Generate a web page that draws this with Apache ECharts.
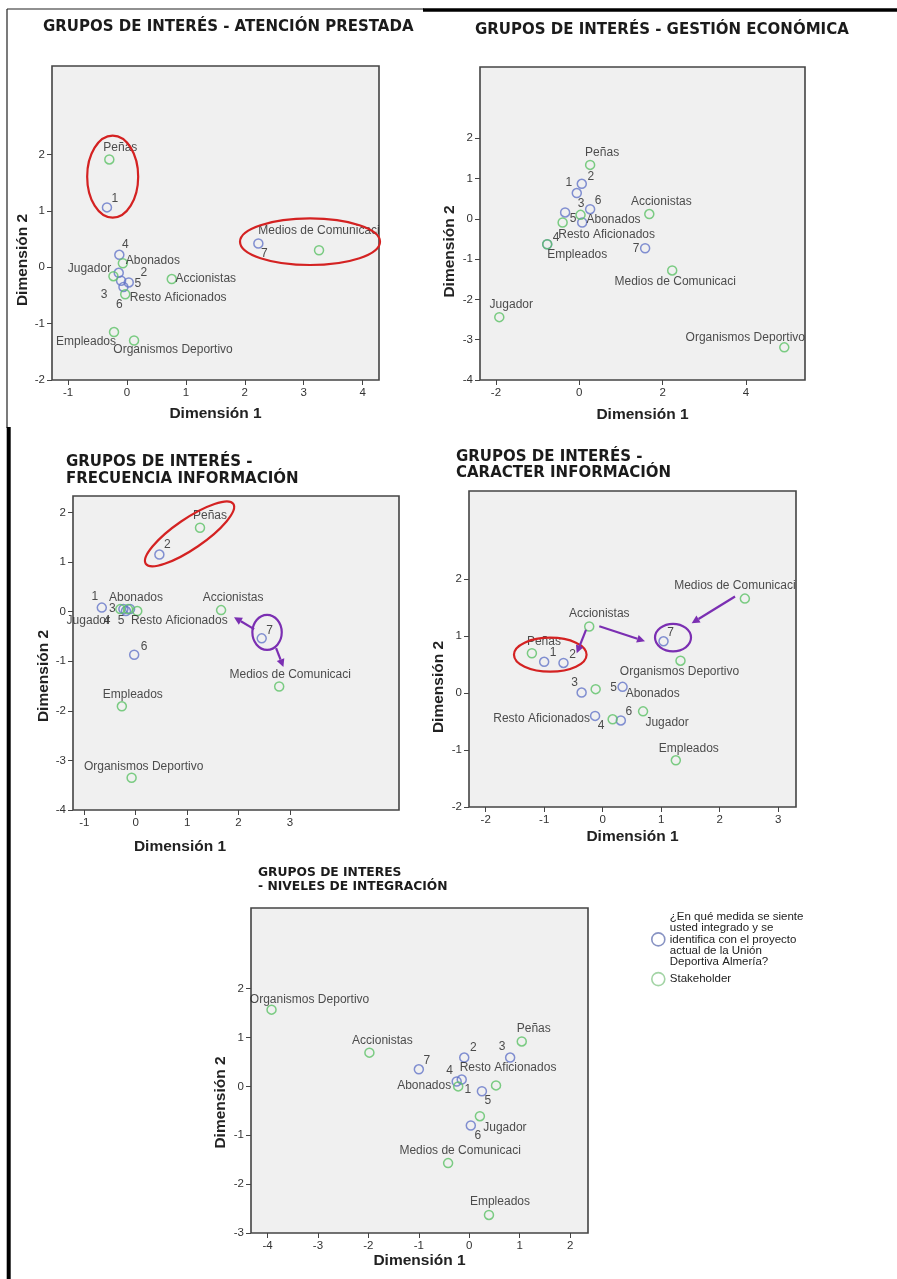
<!DOCTYPE html>
<html><head><meta charset="utf-8">
<script src="https://cdn.jsdelivr.net/npm/echarts@6/dist/echarts.min.js"></script>
<style>html,body{margin:0;padding:0;background:#fff}#c{width:897px;height:1279px}</style>
</head><body><div id="c"></div>
<script>
// ---------- shared names ----------
const blueNames = ['1','2','3','4','5','6','7'];
const greenNames = ['Peñas','Accionistas','Medios de Comunicaci','Organismos Deportivo','Abonados','Resto Aficionados','Jugador','Empleados'];
const blueLegend = '¿En qué medida se siente\nusted integrado y se\nidentifica con el proyecto\nactual de la Unión\nDeportiva Almería?';
const greenLegend = 'Stakeholder';
const panelTitles = ['GRUPOS DE INTERÉS - ATENCIÓN PRESTADA','GRUPOS DE INTERÉS - GESTIÓN ECONÓMICA','GRUPOS DE INTERÉS -\nFRECUENCIA INFORMACIÓN','GRUPOS DE INTERÉS -\nCARACTER INFORMACIÓN','GRUPOS DE INTERES\n- NIVELES DE INTEGRACIÓN'];
const xName = 'Dimensión 1', yName = 'Dimensión 2';

// ---------- panel 1: Atención prestada ----------
const p1BlueX = [-0.34, -0.14, -0.10, -0.13, 0.03, -0.06, 2.23];
const p1BlueY = [1.06, -0.10, -0.24, 0.22, -0.27, -0.35, 0.42];
const p1GreenX = [-0.30, 0.76, 3.26, 0.12, -0.07, -0.03, -0.23, -0.22];
const p1GreenY = [1.91, -0.21, 0.30, -1.30, 0.07, -0.48, -0.16, -1.15];
const p1XTicks = [-1, 0, 1, 2, 3, 4];
const p1YTicks = [-2, -1, 0, 1, 2];

// ---------- panel 2: Gestión económica ----------
const p2BlueX = [-0.06, 0.06, 0.07, -0.77, -0.34, 0.26, 1.58];
const p2BlueY = [0.64, 0.87, -0.09, -0.63, 0.16, 0.24, -0.73];
const p2GreenX = [0.26, 1.68, 2.23, 4.92, 0.03, -0.40, -1.92, -0.77];
const p2GreenY = [1.34, 0.12, -1.28, -3.19, 0.10, -0.09, -2.44, -0.63];
const p2XTicks = [-2, 0, 2, 4];
const p2YTicks = [-4, -3, -2, -1, 0, 1, 2];

// ---------- panel 3: Frecuencia información ----------
const p3BlueX = [-0.66, 0.46, -0.24, -0.19, -0.11, -0.03, 2.45];
const p3BlueY = [0.08, 1.15, 0.05, 0.01, 0.05, -0.87, -0.54];
const p3GreenX = [1.25, 1.66, 2.79, -0.08, -0.15, 0.03, -0.30, -0.27];
const p3GreenY = [1.69, 0.03, -1.51, -3.35, 0.05, 0.01, 0.05, -1.91];
const p3XTicks = [-1, 0, 1, 2, 3];
const p3YTicks = [-4, -3, -2, -1, 0, 1, 2];

// ---------- panel 4: Caracter información ----------
const p4BlueX = [-1.00, -0.67, -0.36, -0.13, 0.34, 0.31, 1.04];
const p4BlueY = [0.55, 0.53, 0.01, -0.40, 0.11, -0.48, 0.91];
const p4GreenX = [-1.21, -0.23, 2.43, 1.33, -0.12, 0.17, 0.69, 1.25];
const p4GreenY = [0.70, 1.17, 1.66, 0.57, 0.07, -0.46, -0.32, -1.18];
const p4XTicks = [-2, -1, 0, 1, 2, 3];
const p4YTicks = [-2, -1, 0, 1, 2];

// ---------- panel 5: Niveles de integración ----------
const p5BlueX = [-0.15, -0.10, 0.81, -0.25, 0.25, 0.03, -1.00];
const p5BlueY = [0.14, 0.59, 0.59, 0.10, -0.10, -0.80, 0.35];
const p5GreenX = [1.04, -1.98, -0.42, -3.92, -0.22, 0.53, 0.21, 0.39];
const p5GreenY = [0.92, 0.69, -1.57, 1.57, 0.00, 0.02, -0.61, -2.63];
const p5XTicks = [-4, -3, -2, -1, 0, 1, 2];
const p5YTicks = [-3, -2, -1, 0, 1, 2];

// ---------- layout / style (not data) ----------
const BLUE = '#6475c8', GREEN = '#5cc266', RED = '#d42222', PURPLE = '#7b2fb2';
const panels = [
  {bx:p1BlueX, by:p1BlueY, gx:p1GreenX, gy:p1GreenY, xt:p1XTicks, yt:p1YTicks,
   grid:{left:52, top:66, width:327, height:314}, xr:[-1.273, 4.278], yr:[-2, 3.567],
   title:{left:43, top:19, fs:15, lh:17}, xNameGap:26, xShift:0, yNameGap:21, yShift:37,
   bOff:[[8,-9],[25,0],[-17,14],[6,-10],[9,1],[-4,18],[6,10]],
   gOff:[[11,-12],[34,0],[0,-20],[39,9],[30,-3],[53,3],[-24,-8],[-28,10]]},
  {bx:p2BlueX, by:p2BlueY, gx:p2GreenX, gy:p2GreenY, xt:p2XTicks, yt:p2YTicks,
   grid:{left:480, top:67, width:325, height:313}, xr:[-2.383, 5.417], yr:[-4, 3.77],
   title:{left:475, top:22, fs:15, lh:17}, xNameGap:27, xShift:0, yNameGap:22, yShift:28,
   bOff:[[-8,-10],[9,-7],[-1,-19],[9,-7],[8,6],[8,-9],[-9,0]],
   gOff:[[12,-12],[12,-12],[3,11],[-39,-10],[33,5],[44,12],[12,-12],[30,10]]},
  {bx:p3BlueX, by:p3BlueY, gx:p3GreenX, gy:p3GreenY, xt:p3XTicks, yt:p3YTicks,
   grid:{left:73, top:496, width:326, height:314}, xr:[-1.22, 5.12], yr:[-4, 2.33],
   title:{left:66, top:454, fs:15, lh:17}, xNameGap:29, xShift:-56, yNameGap:21, yShift:23,
   bOff:[[-7,-11],[8,-10],[-11,0],[-19,10],[-9,12],[10,-8],[8,-8]],
   gOff:[[10,-12],[12,-12],[11,-12],[12,-11],[8,-11],[42,10],[-32,12],[11,-12]]},
  {bx:p4BlueX, by:p4BlueY, gx:p4GreenX, gy:p4GreenY, xt:p4XTicks, yt:p4YTicks,
   grid:{left:469, top:491, width:327, height:316}, xr:[-2.285, 3.304], yr:[-2, 3.55],
   title:{left:456, top:449, fs:15, lh:16}, xNameGap:22, xShift:0, yNameGap:22, yShift:38,
   bOff:[[9,-9],[9,-8],[-7,-10],[6,10],[-9,1],[8,-9],[7,-9]],
   gOff:[[12,-12],[10,-13],[-10,-13],[-1,11],[57,5],[-71,-1],[24,11],[13,-12]]},
  {bx:p5BlueX, by:p5BlueY, gx:p5GreenX, gy:p5GreenY, xt:p5XTicks, yt:p5YTicks,
   grid:{left:251, top:908, width:337, height:325}, xr:[-4.327, 2.353], yr:[-3, 3.65],
   title:{left:258, top:866, fs:12.3, lh:14}, xNameGap:20, xShift:0, yNameGap:22, yShift:32,
   bOff:[[6,10],[9,-10],[-8,-11],[-7,-11],[6,9],[7,10],[8,-9]],
   gOff:[[12,-13],[13,-12],[12,-12],[38,-10],[-34,-1],[12,-18],[25,11],[11,-13]]}
];

// annotations, in data coordinates of each panel
const ellipses = [
  {g:0, c:[-0.243, 1.605], rx:25.5, ry:41, rot:0, color:RED},
  {g:0, c:[3.107, 0.452], rx:70, ry:23.3, rot:0, color:RED},
  {g:2, c:[1.047, 1.567], rx:53, ry:15, rot:0.60, color:RED},
  {g:2, c:[2.554, -0.419], rx:14.7, ry:17.5, rot:0, color:PURPLE},
  {g:3, c:[-0.896, 0.675], rx:36.3, ry:17, rot:0, color:RED},
  {g:3, c:[1.202, 0.975], rx:18, ry:13.7, rot:0, color:PURPLE}
];
const arrows = [
  {g:2, s:[2.302, -0.354], e:[1.911, -0.113]},
  {g:2, s:[2.730, -0.736], e:[2.872, -1.119]},
  {g:3, s:[-0.285, 1.111], e:[-0.444, 0.699]},
  {g:3, s:[-0.058, 1.175], e:[0.723, 0.910]},
  {g:3, s:[2.262, 1.698], e:[1.521, 1.228]}
];

const chart = echarts.init(document.getElementById('c'), null, {renderer:'canvas'});
const labelFont = 'Liberation Sans, Arial, sans-serif';
const grids = [], xAxes = [], yAxes = [], series = [], titles = [];

function mkSeries(i, name, xs, ys, names, offs, color) {
  return {
    type:'scatter', name, xAxisIndex:i, yAxisIndex:i, symbol:'circle', symbolSize:9,
    itemStyle:{color:'rgba(0,0,0,0)', borderColor:color, borderWidth:1.5},
    emphasis:{disabled:true},
    label:{show:true, position:'inside', align:'center', verticalAlign:'middle',
      formatter:p=>p.name, color:'#222', fontSize:12, fontFamily:labelFont},
    data: xs.map((x,k)=>({value:[x, ys[k]], name:names[k], label:{offset:offs[k]}}))
  };
}

panels.forEach((p,i)=>{
  grids.push(Object.assign({show:true, backgroundColor:'#f0f0f0', borderColor:'#444', borderWidth:1.6, containLabel:false}, p.grid));
  const common = {type:'value', gridIndex:i, scale:false,
    axisLine:{show:false, onZero:false}, splitLine:{show:false},
    axisTick:{show:true, length:5, lineStyle:{color:'#444', width:1}},
    axisLabel:{color:'#333', fontSize:11.5, fontFamily:labelFont, margin:7},
    nameLocation:'middle', nameMoveOverlap:false,
    nameTextStyle:{fontFamily:labelFont, fontWeight:'bold', fontSize:15.5, color:'#222'}};
  const sx = p.xShift;
  xAxes.push(Object.assign({}, common, {min:p.xr[0], max:p.xr[1], name:xName, nameGap:p.xNameGap,
    axisLabel:Object.assign({}, common.axisLabel, {customValues:p.xt}),
    axisTick:Object.assign({}, common.axisTick, {customValues:p.xt}),
    nameTextStyle:Object.assign({}, common.nameTextStyle, {padding: sx<0 ? [0, -2*sx, 0, 0] : [0,0,0,2*sx]})}));
  yAxes.push(Object.assign({}, common, {min:p.yr[0], max:p.yr[1], name:yName, nameGap:p.yNameGap,
    axisLabel:Object.assign({}, common.axisLabel, {customValues:p.yt}),
    axisTick:Object.assign({}, common.axisTick, {customValues:p.yt}),
    nameTextStyle:Object.assign({}, common.nameTextStyle, {padding:[0, 2*p.yShift, 0, 0]})}));
  series.push(mkSeries(i, blueLegend, p.bx, p.by, blueNames, p.bOff, BLUE));
  series.push(mkSeries(i, greenLegend, p.gx, p.gy, greenNames, p.gOff, GREEN));
  titles.push({text:panelTitles[i], left:p.title.left, top:p.title.top, padding:0,
    textStyle:{fontFamily:'DejaVu Sans', fontWeight:'bold', fontSize:p.title.fs, lineHeight:p.title.lh, color:'#1b1b1b'}});
});

chart.setOption({
  animation:false,
  backgroundColor:'#ffffff',
  title:titles,
  grid:grids, xAxis:xAxes, yAxis:yAxes, series,
  legend:{orient:'vertical', left:651, top:911, padding:0, itemWidth:13, itemHeight:13, itemGap:4,
    selectedMode:false,
    textStyle:{fontSize:11.5, lineHeight:11.2, color:'#222', fontFamily:labelFont},
    data:[
      {name:blueLegend, icon:'circle', itemStyle:{color:'rgba(0,0,0,0)', borderColor:'#6a78b4', borderWidth:1.6}},
      {name:greenLegend, icon:'circle', itemStyle:{color:'rgba(0,0,0,0)', borderColor:'#8cc98f', borderWidth:1.6}}
    ]}
});

// decorations computed from data coordinates
const gfx = [];
ellipses.forEach(e=>{
  const c = chart.convertToPixel({gridIndex:e.g}, e.c);
  gfx.push({type:'ellipse', x:c[0], y:c[1], rotation:e.rot, silent:true, z:10,
    shape:{cx:0, cy:0, rx:e.rx, ry:e.ry}, style:{fill:'none', stroke:e.color, lineWidth:2.2}});
});
arrows.forEach(a=>{
  const p0 = chart.convertToPixel({gridIndex:a.g}, a.s);
  const p1 = chart.convertToPixel({gridIndex:a.g}, a.e);
  const ang = Math.atan2(p1[1]-p0[1], p1[0]-p0[0]);
  const L = 8, W = 4, ca = Math.cos(ang), sa = Math.sin(ang);
  const b = [p1[0]-L*ca, p1[1]-L*sa];
  gfx.push({type:'line', silent:true, z:10, shape:{x1:p0[0], y1:p0[1], x2:b[0], y2:b[1]}, style:{stroke:PURPLE, lineWidth:2.2}});
  gfx.push({type:'polygon', silent:true, z:10, shape:{points:[p1, [b[0]-W*sa, b[1]+W*ca], [b[0]+W*sa, b[1]-W*ca]]}, style:{fill:PURPLE}});
});
// page frame lines
gfx.push({type:'line', silent:true, shape:{x1:7, y1:9, x2:424, y2:9}, style:{stroke:'#222', lineWidth:1.2}});
gfx.push({type:'line', silent:true, shape:{x1:423, y1:10, x2:897, y2:10}, style:{stroke:'#000', lineWidth:3.4}});
gfx.push({type:'line', silent:true, shape:{x1:7, y1:9, x2:7, y2:428}, style:{stroke:'#222', lineWidth:1.2}});
gfx.push({type:'line', silent:true, shape:{x1:8.7, y1:427, x2:8.7, y2:1279}, style:{stroke:'#000', lineWidth:4}});
chart.setOption({graphic:gfx});
</script></body></html>
